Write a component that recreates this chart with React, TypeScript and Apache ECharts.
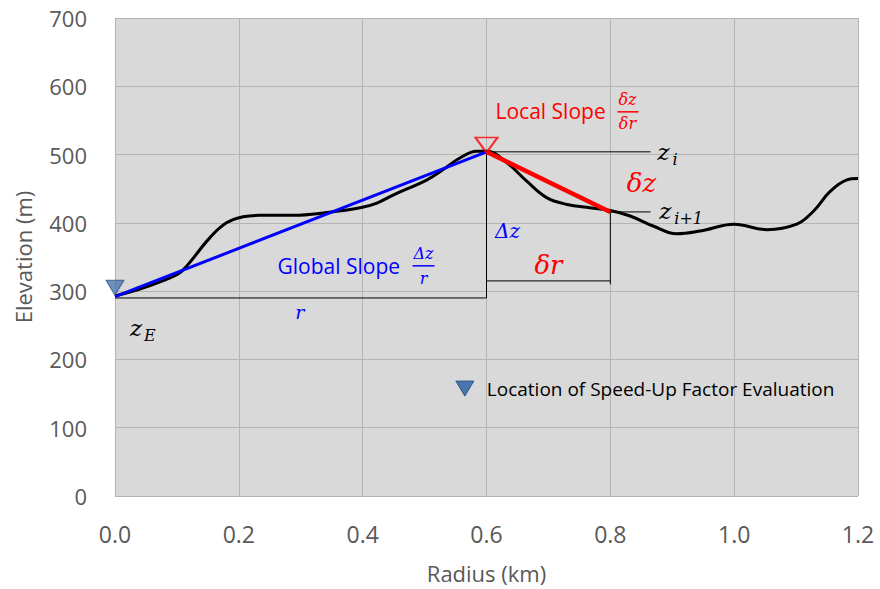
import React, { useEffect, useRef } from "react";
import * as echarts from "echarts";

const terrainX = [0, 0.046, 0.1, 0.116, 0.153, 0.18, 0.207, 0.234, 0.288, 0.342, 0.396, 0.423, 0.45, 0.504, 0.53, 0.557, 0.584, 0.6, 0.633, 0.665, 0.697, 0.73, 0.767, 0.8, 0.832, 0.87, 0.907, 0.945, 1.0, 1.053, 1.101, 1.128, 1.155, 1.182, 1.2];
const terrainY = [293, 305, 324, 337, 378, 400, 409, 411, 411, 415, 422, 429, 441, 463, 478, 495, 505, 505, 488, 461, 437, 427, 422, 418, 410, 395, 384, 388, 398, 390, 398, 417, 446, 463, 465];
const xTicks = [0, 0.2, 0.4, 0.6, 0.8, 1.0, 1.2];
const yTicks = [0, 100, 200, 300, 400, 500, 600, 700];
const globalStart = [0, 292];
const globalEnd = [0.6, 504];
const localEnd = [0.8, 416];
const evalPoint = [0, 305];
const localPoint = [0.6, 514];
const legendText = "Location of Speed-Up Factor Evaluation";

const MATH = "'DejaVu Serif', 'Liberation Serif', serif";
const SANS = "'Open Sans', 'Noto Sans', sans-serif";

export default function App() {
  const ref = useRef<HTMLDivElement>(null);
  useEffect(() => {
    const chart = echarts.init(ref.current!, null, { renderer: "svg" });
    const thin = (data: number[][]) => ({
      type: "line",
      data,
      symbol: "none",
      lineStyle: { color: "#000", width: 1 },
      z: 3,
    });
    chart.setOption({
      animation: false,
      backgroundColor: "#ffffff",
      grid: {
        left: 115,
        right: 22,
        top: 18,
        bottom: 91,
        show: true,
        backgroundColor: "#d9d9d9",
        borderWidth: 0,
      },
      xAxis: {
        type: "value",
        min: 0,
        max: 1.2,
        interval: 0.2,
        name: "Radius (km)",
        nameLocation: "middle",
        nameGap: 66,
        nameTextStyle: { fontSize: 22, color: "#595959", fontFamily: SANS },
        axisLine: { show: false },
        axisTick: { show: false },
        axisLabel: {
          fontSize: 23,
          color: "#595959",
          fontFamily: SANS,
          margin: 26,
          formatter: (v: number) => (xTicks.includes(Math.round(v * 10) / 10) ? v.toFixed(1) : ""),
        },
        splitLine: { show: true, lineStyle: { color: "#b4b4b4", width: 1 } },
      },
      yAxis: {
        type: "value",
        min: 0,
        max: 700,
        interval: 100,
        name: "Elevation (m)",
        nameLocation: "middle",
        nameGap: 81,
        nameTextStyle: { fontSize: 22, color: "#595959", fontFamily: SANS },
        axisLine: { show: false },
        axisTick: { show: false },
        axisLabel: {
          fontSize: 22,
          color: "#595959",
          fontFamily: SANS,
          margin: 28,
          formatter: (v: number) => (yTicks.includes(v) ? String(v) : ""),
        },
        splitLine: { show: true, lineStyle: { color: "#b4b4b4", width: 1 } },
      },
      series: [
        {
          type: "line",
          data: terrainX.map((x, i) => [x, terrainY[i]]),
          smooth: 0.4,
          symbol: "none",
          lineStyle: { color: "#000", width: 3 },
          z: 2,
        },
        thin([[0, 290], [0.6, 290]]),
        thin([[0.6, 504], [0.6, 290]]),
        thin([[0.6, 315], [0.8, 315]]),
        thin([[0.8, 416], [0.8, 310]]),
        thin([[0.6, 504], [0.865, 504]]),
        thin([[0.8, 416], [0.865, 416]]),
        {
          type: "line",
          data: [globalStart, globalEnd],
          symbol: "none",
          lineStyle: { color: "#0000ff", width: 3 },
          z: 4,
        },
        {
          type: "line",
          data: [globalEnd, localEnd],
          symbol: "none",
          lineStyle: { color: "#ff0000", width: 4.5 },
          z: 4,
        },
        {
          type: "scatter",
          data: [evalPoint],
          symbol: "triangle",
          symbolRotate: 180,
          symbolSize: [18, 15],
          itemStyle: { color: "#4a76b0", borderColor: "#2f5487", borderWidth: 1 },
          z: 5,
        },
        {
          type: "scatter",
          data: [localPoint],
          symbol: "triangle",
          symbolRotate: 180,
          symbolSize: [22, 15],
          itemStyle: { color: "rgba(0,0,0,0)", borderColor: "#ff0000", borderWidth: 2 },
          z: 5,
        },
      ],
    });

    const p = (x: number, y: number) => chart.convertToPixel({ gridIndex: 0 }, [x, y]) as number[];
    const txt = (pos: number[], dx: number, dy: number, text: string, opts: any) => ({
      type: "text",
      x: pos[0] + dx,
      y: pos[1] + dy,
      z: 10,
      style: { text, verticalAlign: "middle", ...opts },
    });
    const bar = (pos: number[], dx1: number, dx2: number, dy: number, color: string) => ({
      type: "rect",
      z: 10,
      shape: { x: pos[0] + dx1, y: pos[1] + dy - 0.75, width: dx2 - dx1, height: 1.5 },
      style: { fill: color },
    });

    const a0 = p(0, 290);
    const aPeak = p(0.6, 504);
    const aLocal = p(0.8, 416);
    const aMidR = p(0.3, 290);
    const aLeg = p(0.565, 158);

    const red = "#ff0000";
    const blue = "#0000ff";
    chart.setOption({
      graphic: [
        // z_E
        txt(a0, 15, 30, "z", { fill: "#000", font: `italic 23px ${MATH}`, align: "left" }),
        txt(a0, 29, 38, "E", { fill: "#000", font: `italic 16px ${MATH}`, align: "left" }),
        // r
        txt(aMidR, -1, 14, "r", { fill: blue, font: `italic 19px ${MATH}`, align: "center" }),
        // Global Slope
        txt(aPeak, -209, 114, "Global Slope", { fill: blue, font: `21px ${SANS}`, align: "left" }),
        txt(aPeak, -63, 102, "Δz", { fill: blue, font: `italic 16px ${MATH}`, align: "center" }),
        bar(aPeak, -74, -52, 114, blue),
        txt(aPeak, -63, 127, "r", { fill: blue, font: `italic 16px ${MATH}`, align: "center" }),
        // Δz
        txt(aPeak, 21, 79, "Δz", { fill: blue, font: `italic 20px ${MATH}`, align: "center" }),
        // δr
        txt(aPeak, 62, 113, "δr", { fill: red, font: `italic 26px ${MATH}`, align: "center" }),
        // δz
        txt(aPeak, 155, 31, "δz", { fill: red, font: `italic 26px ${MATH}`, align: "center" }),
        // Local Slope
        txt(aPeak, 9, -41, "Local Slope", { fill: red, font: `21px ${SANS}`, align: "left" }),
        txt(aPeak, 141, -52, "δz", { fill: red, font: `italic 16px ${MATH}`, align: "center" }),
        bar(aPeak, 131, 152, -40, red),
        txt(aPeak, 141, -28, "δr", { fill: red, font: `italic 16px ${MATH}`, align: "center" }),
        // z_i
        txt(aPeak, 171, 0, "z", { fill: "#000", font: `italic 23px ${MATH}`, align: "left" }),
        txt(aPeak, 186, 8, "i", { fill: "#000", font: `italic 16px ${MATH}`, align: "left" }),
        // z_{i+1}
        txt(aLocal, 49, -1, "z", { fill: "#000", font: `italic 23px ${MATH}`, align: "left" }),
        txt(aLocal, 64, 7, "i+1", { fill: "#000", font: `italic 16px ${MATH}`, align: "left" }),
        // legend
        {
          type: "polygon",
          z: 10,
          shape: {
            points: [
              [aLeg[0] - 9, aLeg[1] - 7],
              [aLeg[0] + 9, aLeg[1] - 7],
              [aLeg[0], aLeg[1] + 8],
            ],
          },
          style: { fill: "#4a76b0", stroke: "#2f5487", lineWidth: 1 },
        },
        txt(aLeg, 22, 1, legendText, { fill: "#000", font: `19px ${SANS}`, align: "left" }),
      ],
    });
    return () => chart.dispose();
  }, []);
  return (
    <div
      ref={ref}
      style={{ position: "fixed", left: 0, top: 0, width: 880, height: 589 }}
    />
  );
}
